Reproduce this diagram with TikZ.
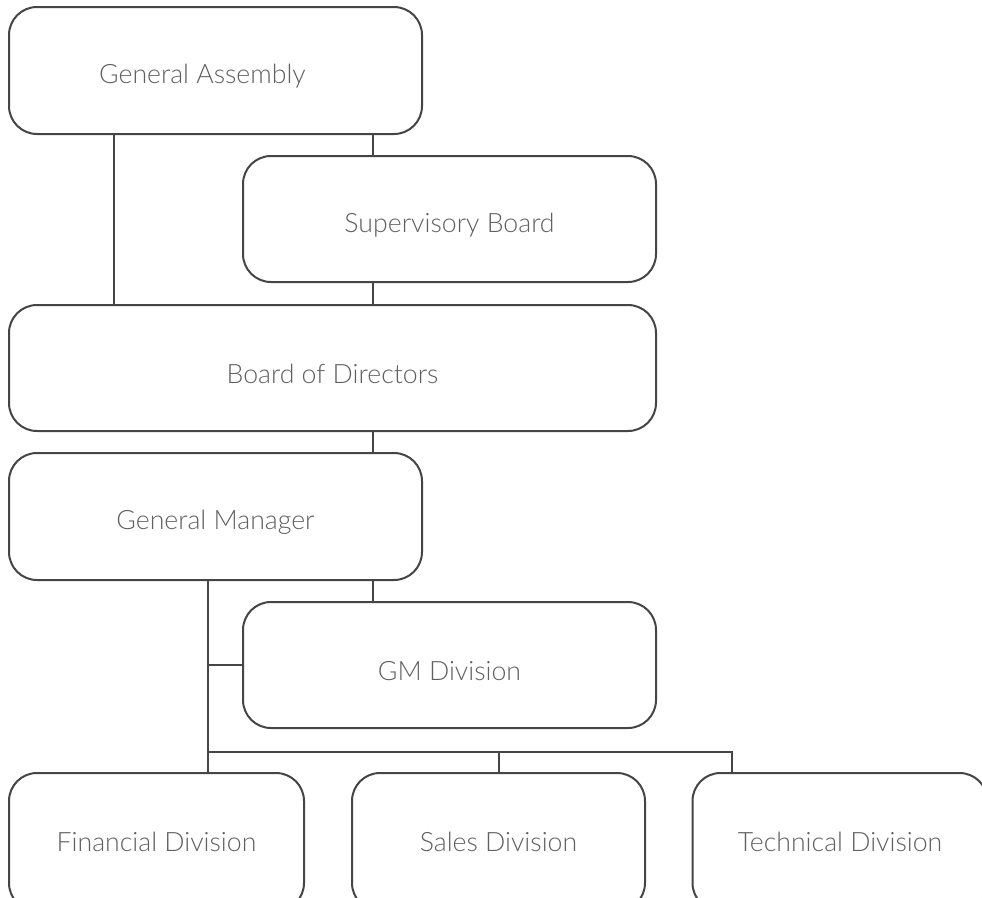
\documentclass[tikz,border=0pt]{standalone}
\usepackage{fontspec}
\setmainfont{Lato Light}
\definecolor{linec}{HTML}{454545}
\definecolor{textc}{HTML}{606060}
\begin{document}
\begin{tikzpicture}[x=0.75pt,y=-0.75pt,
  txt/.style={text=textc,font=\fontsize{20}{24}\selectfont,inner sep=0pt,yshift=-4.5pt},
  box/.style={draw=linec,line width=1.5pt,rounded corners=21pt,fill=white,
    inner sep=0pt,outer sep=0pt},
  wbox/.style={box,minimum width=309.75pt,minimum height=95.25pt},
  bigbox/.style={box,minimum width=485.25pt,minimum height=94.5pt},
  lowbox/.style={box,minimum width=221.25pt,minimum height=103.5pt},
  conn/.style={draw=linec,line width=1.5pt}]
\useasboundingbox (0,0) rectangle (982,897);
\clip (0,0) rectangle (982,897);
\node[wbox,label={[txt,xshift=-9.75pt]center:General Assembly}] (GA) at (215.5,70.5) {};
\node[wbox,minimum height=94.5pt,label={[txt]center:Supervisory Board}] (SB) at (449.5,219) {};
\node[bigbox,label={[txt]center:Board of Directors}] (BoD) at (332.5,368) {};
\node[wbox,label={[txt]center:General Manager}] (GM) at (215.5,516.5) {};
\node[wbox,minimum height=94.5pt,label={[txt]center:GM Division}] (GMD) at (449.5,665) {};
\node[lowbox,label={[txt,yshift=4.5pt]center:Financial Division}] (Fin) at (156.5,842) {};
\node[lowbox,minimum width=219.75pt,label={[txt,yshift=4.5pt]center:Sales Division}] (Sales) at (498.5,842) {};
\node[lowbox,label={[txt,yshift=4.5pt]center:Technical Division}] (Tech) at (840,842) {};
\coordinate (gaL) at (114,0);
\coordinate (mid) at (373,0);
\coordinate (bus) at (208,752);
\coordinate (busR) at (732,752);
\draw[conn] (GA.south -| gaL) -- (BoD.north -| gaL);
\draw[conn] (GA.south -| mid) -- (SB.north -| mid);
\draw[conn] (SB.south -| mid) -- (BoD.north -| mid);
\draw[conn] (BoD.south -| mid) -- (GM.north -| mid);
\draw[conn] (GM.south -| mid) -- (GMD.north -| mid);
\draw[conn] (GM.south -| bus) -- (Fin.north -| bus);
\draw[conn] (GMD.west -| bus) -- (GMD.west);
\draw[conn] (bus) -- (busR) -- (Tech.north -| busR);
\draw[conn] (Sales.north |- bus) -- (Sales.north);
\end{tikzpicture}
\end{document}
